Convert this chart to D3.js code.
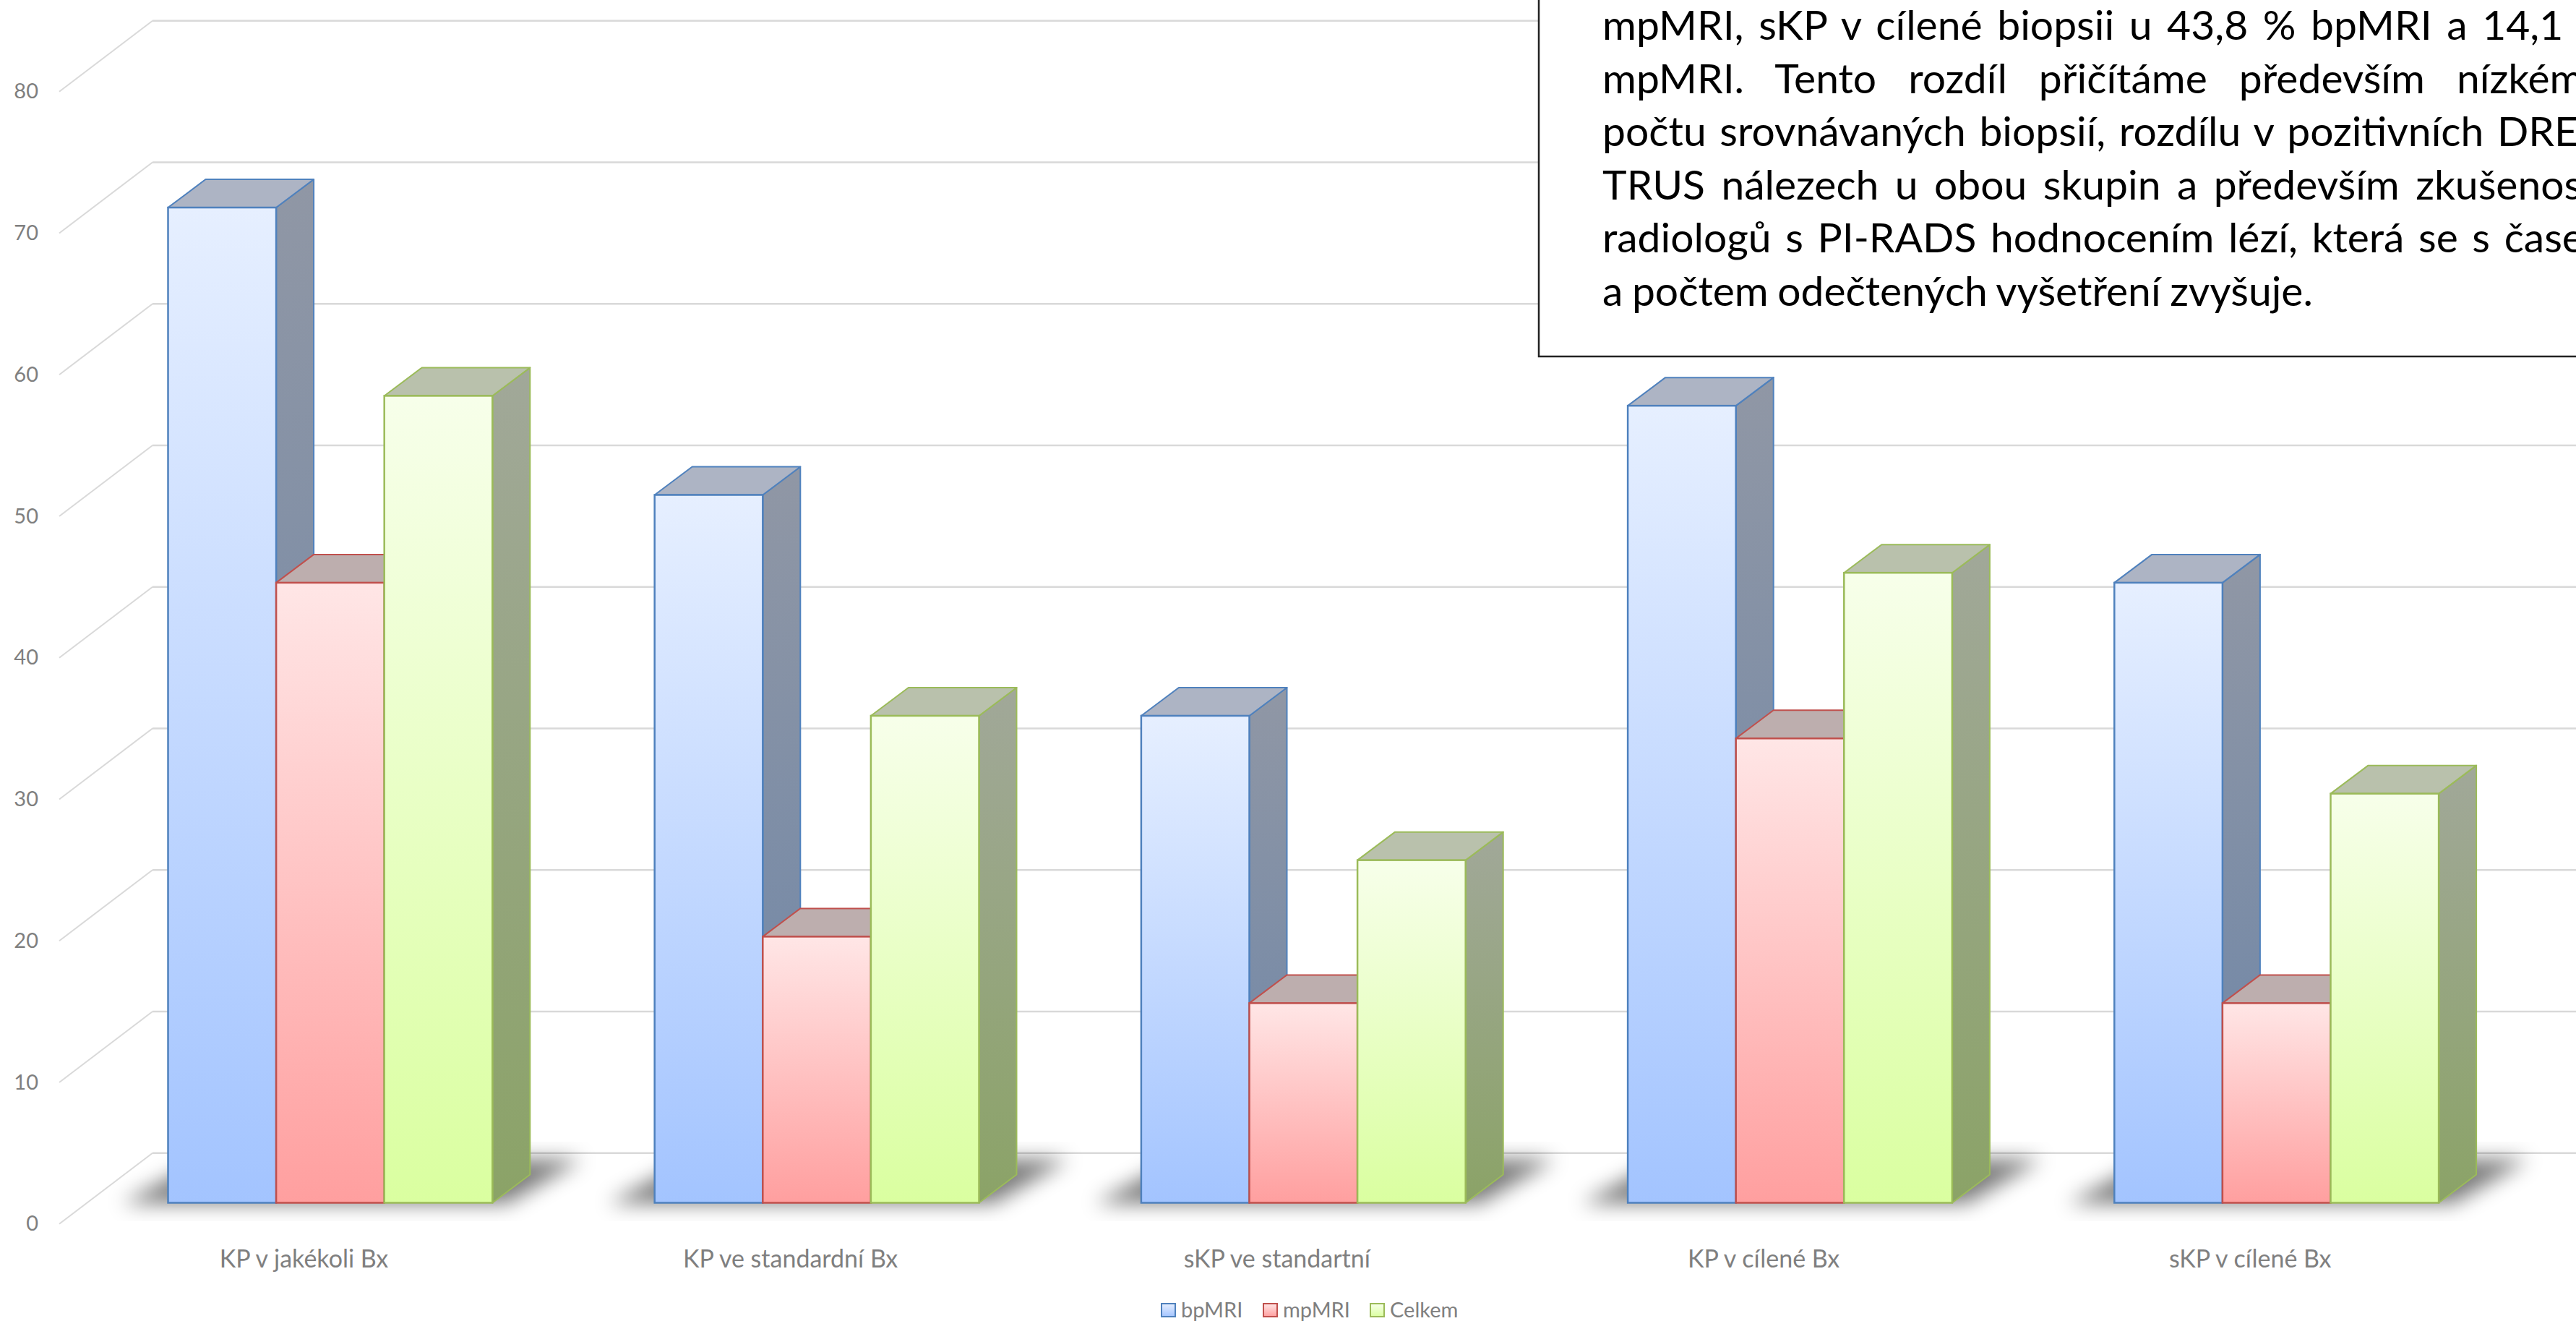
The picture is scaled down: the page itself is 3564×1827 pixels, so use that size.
<!DOCTYPE html>
<html lang="cs">
<head>
<meta charset="utf-8">
<title>bpMRI vs mpMRI</title>
<script src="https://cdn.jsdelivr.net/npm/d3@7"></script>
<style>
    html, body { margin: 0; padding: 0; background: #fff; }
    svg { display: block; font-family: Lato, "Open Sans", sans-serif; }
    .tick-label, .legend-label { fill: #7f7f7f; font-size: 29px; }
    .cat-label { fill: #7f7f7f; font-size: 34px; }
    .note-line { fill: #000; font-size: 57px; }
</style>
</head>
<body>
<div id="chart"></div>
<script>
// chart data
const categories = ["KP v jakékoli Bx", "KP ve standardní Bx", "sKP ve standartní", "KP v cílené Bx", "sKP v cílené Bx"];
const seriesNames = ["bpMRI", "mpMRI", "Celkem"];
const bpMRI = [70.3, 50.0, 34.4, 56.3, 43.8];
const mpMRI = [43.8, 18.8, 14.1, 32.8, 14.1];
const celkem = [57.0, 34.4, 24.2, 44.5, 28.9];
const yTicks = [0, 10, 20, 30, 40, 50, 60, 70, 80];

const noteLines = [
    "mpMRI, sKP v cílené biopsii u 43,8 % bpMRI a 14,1 %",
    "mpMRI. Tento rozdíl přičítáme především nízkému",
    "počtu srovnávaných biopsií, rozdílu v pozitivních DRE a",
    "TRUS nálezech u obou skupin a především zkušenosti",
    "radiologů s PI-RADS hodnocením lézí, která se s časem",
    "a počtem odečtených vyšetření zvyšuje."
];

const seriesValues = [bpMRI, mpMRI, celkem];

// per series colours
const palette = [
    {stroke: "#4f81bd", top: "#adb4c4", frontTop: "#e6efff", frontBottom: "#a3c4ff", sideTop: "#9097a5", sideBottom: "#6c85a8"},
    {stroke: "#c0504d", top: "#bdaeae", frontTop: "#ffe6e6", frontBottom: "#ff9f9f", sideTop: "#a89494", sideBottom: "#a07070"},
    {stroke: "#9bbb59", top: "#b9c1ac", frontTop: "#f7ffea", frontBottom: "#daffa0", sideTop: "#a1a899", sideBottom: "#8ba367"}
];

const width = 3564, height = 1827;

// bar depth and wall depth of the fake 3d box
const barDepth = {x: 52, y: 39};
const wallDepth = {x: 129, y: 98};

const svg = d3.select("#chart").append("svg")
    .attr("width", width)
    .attr("height", height);

const defs = svg.append("defs");

palette.forEach(function (p, i) {
    let front = defs.append("linearGradient").attr("id", "front" + i)
        .attr("x1", 0).attr("x2", 0).attr("y1", 0).attr("y2", 1);
    front.append("stop").attr("offset", "0%").attr("stop-color", p.frontTop);
    front.append("stop").attr("offset", "100%").attr("stop-color", p.frontBottom);

    let side = defs.append("linearGradient").attr("id", "side" + i)
        .attr("x1", 0).attr("x2", 0).attr("y1", 0).attr("y2", 1);
    side.append("stop").attr("offset", "0%").attr("stop-color", p.sideTop);
    side.append("stop").attr("offset", "100%").attr("stop-color", p.sideBottom);
});

defs.append("filter").attr("id", "floorBlur")
    .attr("x", "-10%").attr("y", "-40%").attr("width", "120%").attr("height", "180%")
    .append("feGaussianBlur").attr("stdDeviation", 14);

// Scales
const x0 = d3.scaleBand()
    .domain(categories)
    .range([120.3, 3486.3])
    .paddingInner(1 / 3)
    .paddingOuter(1 / 6);

const x1 = d3.scaleBand()
    .domain(seriesNames)
    .range([0, x0.bandwidth()]);

// bars stand a little behind the front edge of the floor
const yBar = d3.scaleLinear().domain([0, 80]).range([1663.5, 1663.5 - 80 * 19.58]);
const yGrid = d3.scaleLinear().domain([0, 80]).range([1692.7, 126.7]);

// Grid: side wall + back wall
const grid = svg.append("g").attr("class", "grid");
const frontX = 82, backX = frontX + wallDepth.x;

grid.selectAll(".grid-side")
    .data(yTicks)
    .enter()
    .append("line")
    .attr("class", "grid-side")
    .attr("x1", frontX)
    .attr("y1", d => yGrid(d))
    .attr("x2", backX)
    .attr("y2", d => yGrid(d) - wallDepth.y)
    .attr("stroke", "#d9d9d9")
    .attr("stroke-width", 2);

grid.selectAll(".grid-back")
    .data(yTicks)
    .enter()
    .append("line")
    .attr("class", "grid-back")
    .attr("x1", backX)
    .attr("y1", d => yGrid(d) - wallDepth.y)
    .attr("x2", width)
    .attr("y2", d => yGrid(d) - wallDepth.y)
    .attr("stroke", "#d9d9d9")
    .attr("stroke-width", 2.5);

// Y axis, labels only
const yAxis = d3.axisLeft(yGrid).tickValues(yTicks).tickSize(0).tickPadding(0);
svg.append("g")
    .attr("class", "y-axis")
    .attr("transform", "translate(53,0)")
    .call(yAxis)
    .call(g => g.select(".domain").remove())
    .selectAll("text")
    .attr("class", "tick-label");
svg.select(".y-axis").attr("font-size", null).attr("font-family", null);

// Floor shadows
svg.append("g").attr("class", "shadows")
    .selectAll("polygon")
    .data(categories)
    .enter()
    .append("polygon")
    .attr("points", function (d) {
        let left = x0(d), right = left + x0.bandwidth(), base = yBar(0);
        return [
            [left - 64, base + 1],
            [right + 20, base + 1],
            [right + 124, base - 60],
            [left + 50, base - 60]
        ].join(" ");
    })
    .attr("fill", "#000")
    .attr("opacity", 0.52)
    .attr("filter", "url(#floorBlur)");

// Bars, drawn left to right so each one hides the side of the previous
const groups = svg.append("g").attr("class", "bars")
    .selectAll("g")
    .data(categories)
    .enter()
    .append("g")
    .attr("transform", d => "translate(" + x0(d) + ",0)");

seriesNames.forEach(function (name, s) {
    let p = palette[s];
    let w = x1.bandwidth();
    let bars = groups.append("g").attr("class", "bar-" + name);

    // right side
    bars.append("polygon")
        .attr("points", function (d, i) {
            let x = x1(name) + w, top = yBar(seriesValues[s][i]), base = yBar(0);
            return [[x, top], [x + barDepth.x, top - barDepth.y], [x + barDepth.x, base - barDepth.y], [x, base]].join(" ");
        })
        .attr("fill", "url(#side" + s + ")")
        .attr("stroke", p.stroke)
        .attr("stroke-width", 2)
        .attr("stroke-linejoin", "round");

    // top
    bars.append("polygon")
        .attr("points", function (d, i) {
            let x = x1(name), top = yBar(seriesValues[s][i]);
            return [[x, top], [x + w, top], [x + w + barDepth.x, top - barDepth.y], [x + barDepth.x, top - barDepth.y]].join(" ");
        })
        .attr("fill", p.top)
        .attr("stroke", p.stroke)
        .attr("stroke-width", 2)
        .attr("stroke-linejoin", "round");

    // front
    bars.append("rect")
        .attr("x", x1(name))
        .attr("y", (d, i) => yBar(seriesValues[s][i]))
        .attr("width", w)
        .attr("height", (d, i) => yBar(0) - yBar(seriesValues[s][i]))
        .attr("fill", "url(#front" + s + ")")
        .attr("stroke", p.stroke)
        .attr("stroke-width", 2.5);
});

// Category labels
svg.append("g").attr("class", "x-labels")
    .selectAll("text")
    .data(categories)
    .enter()
    .append("text")
    .attr("class", "cat-label")
    .attr("x", d => x0(d) + x0.bandwidth() / 2 - 36.5)
    .attr("y", 1753)
    .attr("text-anchor", "middle")
    .text(d => d);

// Legend
const legendX = d3.scaleOrdinal().domain(seriesNames).range([1607, 1748, 1896]);
const legend = svg.append("g").attr("class", "legend")
    .selectAll("g")
    .data(seriesNames)
    .enter()
    .append("g")
    .attr("transform", d => "translate(" + legendX(d) + ",1803)");

legend.append("rect")
    .attr("width", 19)
    .attr("height", 18)
    .attr("fill", (d, i) => "url(#front" + i + ")")
    .attr("stroke", (d, i) => palette[i].stroke)
    .attr("stroke-width", 2);

legend.append("text")
    .attr("class", "legend-label")
    .attr("x", 27)
    .attr("y", 19)
    .text(d => d);

// Overlapping text box from the slide, runs off the right edge
const note = svg.append("g").attr("class", "note");

note.append("rect")
    .attr("x", 2129)
    .attr("y", -10)
    .attr("width", width)
    .attr("height", 503)
    .attr("fill", "#fff")
    .attr("stroke", "#222")
    .attr("stroke-width", 2.5);

const noteWordSpacing = [6, 29.4, 4, 7.8, 5, -2];

note.selectAll(".note-line")
    .data(noteLines)
    .enter()
    .append("text")
    .attr("class", "note-line")
    .attr("x", 2217)
    .attr("y", (d, i) => 55 + i * 73.6)
    .style("word-spacing", (d, i) => noteWordSpacing[i] + "px")
    .text(d => d);
</script>
</body>
</html>
